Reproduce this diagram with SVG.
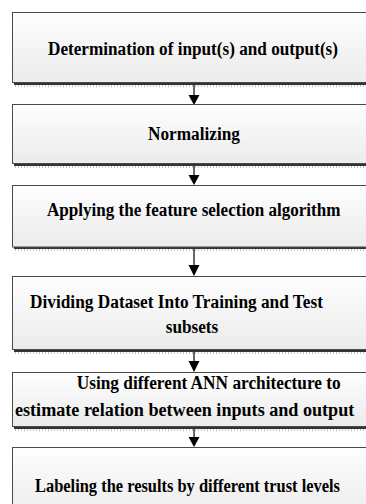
<svg xmlns="http://www.w3.org/2000/svg" width="366" height="504" viewBox="0 0 366 504">
<defs>
<linearGradient id="g" x1="0" y1="0" x2="0" y2="1">
<stop offset="0" stop-color="#fefefe"/>
<stop offset="1" stop-color="#ebebeb"/>
</linearGradient>
<style>
.box{fill:url(#g);stroke:#4a4a4a;stroke-width:1}
.sh{fill:#333}
.dot{stroke:#888;stroke-width:1;stroke-dasharray:1 2}
.t{font-family:"Liberation Serif","Times New Roman",serif;font-weight:bold;font-size:18.5px;fill:#000}
.ln{stroke:#000;stroke-width:1.2;fill:none}
.hd{fill:#000}
</style>
</defs>
<rect width="366" height="504" fill="#fff"/>
<g id="connectors">
<line class="ln" x1="194" y1="84" x2="194" y2="96"/>
<path class="hd" d="M188.5,95 L199.5,95 L194,105 Z"/>
<line class="ln" x1="194" y1="165" x2="194" y2="176"/>
<path class="hd" d="M188.5,175 L199.5,175 L194,185 Z"/>
<line class="ln" x1="194" y1="249" x2="194" y2="266"/>
<path class="hd" d="M188.5,265 L199.5,265 L194,276 Z"/>
<line class="ln" x1="194" y1="352" x2="194" y2="362"/>
<path class="hd" d="M188.5,361 L199.5,361 L194,372 Z"/>
<line class="ln" x1="194" y1="428" x2="194" y2="438"/>
<path class="hd" d="M188.5,437 L199.5,437 L194,447 Z"/>
</g>
<g id="n1">
<rect class="sh" x="14" y="82" width="360" height="3"/>
<line class="dot" x1="15" y1="86" x2="370" y2="86"/>
<rect class="box" x="12.5" y="12.5" width="360" height="70"/>
<text class="t" x="48" y="55" textLength="290" lengthAdjust="spacingAndGlyphs">Determination of input(s) and output(s)</text>
</g>
<g id="n2">
<rect class="sh" x="14" y="163" width="360" height="3"/>
<line class="dot" x1="15" y1="167" x2="370" y2="167"/>
<rect class="box" x="12.5" y="104.5" width="360" height="59"/>
<text class="t" x="148" y="140" textLength="92" lengthAdjust="spacingAndGlyphs">Normalizing</text>
</g>
<g id="n3">
<rect class="sh" x="14" y="246" width="360" height="3"/>
<line class="dot" x1="15" y1="250" x2="370" y2="250"/>
<rect class="box" x="12.5" y="185.5" width="360" height="61.5"/>
<text class="t" x="47" y="215.5" textLength="293.5" lengthAdjust="spacingAndGlyphs">Applying the feature selection algorithm</text>
</g>
<g id="n4">
<rect class="sh" x="14" y="349" width="360" height="3"/>
<line class="dot" x1="15" y1="353" x2="370" y2="353"/>
<rect class="box" x="12.5" y="276.5" width="360" height="73"/>
<text class="t" x="30" y="308" textLength="293" lengthAdjust="spacingAndGlyphs">Dividing Dataset Into Training and Test</text>
<text class="t" x="165.7" y="333" textLength="52.6" lengthAdjust="spacingAndGlyphs">subsets</text>
</g>
<g id="n5">
<rect class="sh" x="14" y="426" width="360" height="3"/>
<line class="dot" x1="15" y1="430" x2="370" y2="430"/>
<rect class="box" x="12.5" y="372.5" width="360" height="54"/>
<text class="t" x="76.7" y="389" textLength="264" lengthAdjust="spacingAndGlyphs">Using different ANN architecture to</text>
<text class="t" x="15" y="416" textLength="339.3" lengthAdjust="spacingAndGlyphs">estimate relation between inputs and output</text>
</g>
<g id="n6">
<rect class="box" x="12.5" y="447.5" width="360" height="70"/>
<text class="t" x="35" y="492" textLength="305" lengthAdjust="spacingAndGlyphs">Labeling the results by different trust levels</text>
</g>
</svg>
